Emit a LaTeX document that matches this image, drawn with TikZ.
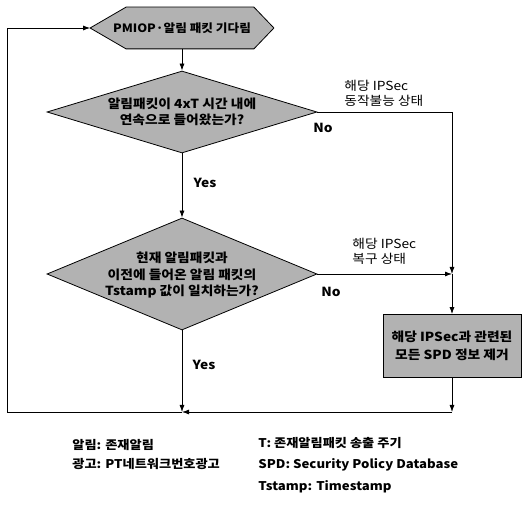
\documentclass[tikz,border=0pt]{standalone}
\usepackage{fontspec}
\setmainfont{Noto Sans CJK KR}[FakeStretch=1.1]
\usetikzlibrary{positioning,arrows.meta,shapes.geometric}

\tikzset{
  waitbox/.style={rectangle, minimum width=183pt, minimum height=41pt, inner sep=0pt,
    font=\bfseries\fontsize{11.5}{13}\selectfont},
  shade box/.style={draw, fill=black!30},
  decision/.style={diamond, shade box, minimum width=270pt, inner sep=-10pt,
    align=center, font=\bfseries\fontsize{12.5}{15.5}\selectfont},
  action/.style={rectangle, shade box, minimum width=138pt, minimum height=63pt,
    align=center, font=\bfseries\fontsize{12.5}{18}\selectfont},
  note/.style={align=left, inner sep=0pt, font=\fontsize{12.5}{15.5}\selectfont},
  tag/.style={inner sep=0pt, font=\bfseries\fontsize{12.5}{14}\selectfont},
  legend/.style={anchor=west, inner sep=0pt, font=\bfseries\fontsize{12}{14}\selectfont}
}

\begin{document}
\begin{tikzpicture}[x=1pt, y=-1pt, on grid, >={Latex[length=7pt,width=5pt]}, line width=0.8pt]
  \useasboundingbox (0,0) rectangle (523,505);

  \node[waitbox] (wait) at (182,28) {};
  \path[shade box] (wait.west) -- ([xshift=36pt]wait.north west)
    -- ([xshift=-20pt]wait.north east) -- (wait.east)
    -- ([xshift=-20pt]wait.south east) -- ([xshift=36pt]wait.south west) -- cycle;
  \node[waitbox] at (wait) {PMIOP·알림 패킷 기다림};

  \node[decision, aspect=3.3, minimum height=82pt, below=84pt of wait] (quiet)
    {알림패킷이 4xT 시간 내에\\연속으로 들어왔는가?};
  \node[decision, aspect=2.4, minimum height=112pt, below=162pt of quiet, text depth=0pt] (match)
    {현재 알림패킷과\\[1pt]이전에 들어온 알림 패킷의\\[1pt]Tstamp 값이 일치하는가?};
  \node[action, below right=72pt and 270pt of match] (purge)
    {해당 IPSec과 관련된\\모든 SPD 정보 제거};

  \coordinate (join) at (purge |- match);
  \coordinate (merge) at (182,412);
  \coordinate (rcorner) at (purge |- merge);
  \coordinate (lcorner) at (7,412);

  \draw[->] (wait) -- (quiet);
  \draw[->] (quiet) -- (match);
  \draw[->] (quiet.east) -| (join);
  \draw[->] (match.east) -- (join);
  \draw[->] (join) -- (purge);
  \draw[->] (purge) -- (rcorner);
  \draw[->] (rcorner) -- (merge);
  \draw[->] (match) -- (merge);
  \draw[->] (merge) -- (lcorner) |- (wait.west);

  % branch labels
  \node[note, anchor=south west] (downlbl) at (344,107) {해당 IPSec\\동작불능 상태};
  \node[note, anchor=south west] (backlbl) at (352,265) {해당 IPSec\\복구 상태};
  \node[tag] (no1) at (323,128) {No};
  \node[tag] (no2) at (331,292) {No};
  \node[tag] (yes1) at (205,183) {Yes};
  \node[tag] (yes2) at (204,365) {Yes};

  % legend
  \node[legend] (leg1) at (72,445) {알림: 존재알림};
  \node[legend] (leg2) at (72,464) {광고: PT네트워크번호광고};
  \node[legend] (leg3) at (258,443) {T: 존재알림패킷 송출 주기};
  \node[legend] (leg4) at (258,465) {SPD: Security Policy Database};
  \node[legend] (leg5) at (258,487) {Tstamp: Timestamp};
\end{tikzpicture}
\end{document}
